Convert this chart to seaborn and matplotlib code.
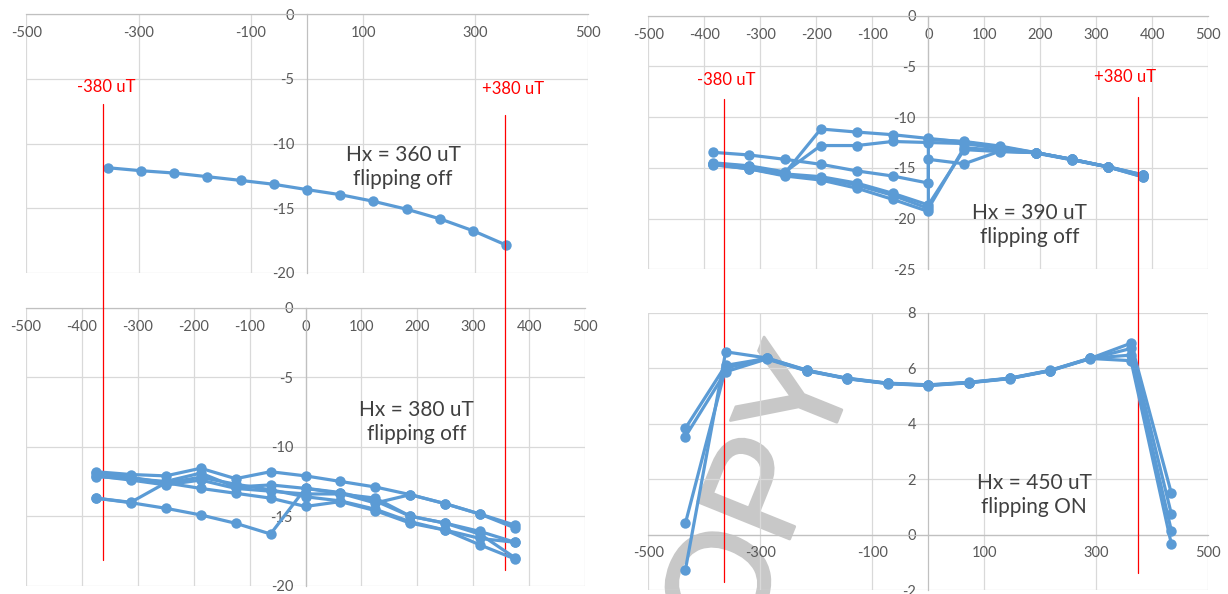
import numpy as np
import pandas as pd
import matplotlib
matplotlib.use("Agg")
import matplotlib.pyplot as plt
import matplotlib.transforms as mtransforms
import matplotlib.patheffects as pe
from matplotlib.lines import Line2D
import seaborn as sns

# ---------------- data ----------------
# Hx = 360 uT : single sweep
H360_X = [-355, -296, -237, -178, -118, -59, 0, 59, 118, 178, 237, 296, 355]
H360_Y = [-11.87, -12.10, -12.28, -12.56, -12.85, -13.15, -13.56, -13.95, -14.46, -15.08, -15.82, -16.74, -17.85]

# Hx = 380 uT : repeated sweeps
H380_X = [-375, -312.5, -250, -187.5, -125, -62.5, 0, 62.5, 125, 187.5, 250, 312.5, 375]
H380_X_DOWN = H380_X[::-1]
H380_S1 = [-11.80, -12.00, -12.10, -11.55, -12.30, -11.80, -12.10, -12.50, -12.90, -13.45, -14.10, -14.85, -15.65]
H380_S2 = [-12.15, -12.30, -12.50, -11.90, -12.90, -12.75, -13.00, -13.35, -14.05, -13.45, -14.10, -14.85, -15.85]
H380_S3 = [-12.10, -12.40, -12.75, -12.40, -13.00, -13.20, -13.40, -13.40, -13.70, -15.00, -15.50, -16.10, -16.88]
H380_S4 = [-11.90, -12.20, -12.60, -13.00, -13.35, -13.70, -14.30, -13.95, -14.60, -15.50, -16.00, -17.07, -18.08]
H380_S5 = [-16.88, -16.60, -16.00, -15.40, -14.50, -13.90, -13.60, -13.10, -12.70, -12.20, -12.60, -14.00, -13.70]
H380_S6 = [-13.70, -14.03, -14.43, -14.91, -15.51, -16.28, -12.99, -13.30, -13.90, -15.00, -15.50, -16.30, -18.00]

# Hx = 390 uT : repeated sweeps
H390_X = [-384, -320, -256, -192, -128, -64, 0, 64, 128, 192, 256, 320, 384]
H390_X_DOWN = H390_X[::-1]
H390_X_STEP = [-384, -320, -256, -192, -128, -64, 0, 0, 64, 128, 192, 256, 320, 384]
H390_T1 = [-14.70, -15.10, -15.80, -16.20, -17.00, -18.10, -19.30, -12.20, -12.40, -12.85, -13.50, -14.15, -14.90, -15.90]
H390_T2 = [-15.70, -14.88, -14.16, -13.50, -12.95, -12.45, -12.10, -11.73, -11.47, -11.17, -15.50, -14.85, -14.60]
H390_T3 = [-14.60, -15.00, -15.60, -15.87, -16.50, -17.50, -18.66, -13.20, -13.40, -13.50, -14.20, -14.90, -15.80]
H390_T4 = [-13.47, -13.73, -14.16, -14.65, -15.30, -15.80, -16.50, -14.16, -14.60, -13.35, -13.50, -14.16, -14.88, -15.70]
H390_T5 = [-15.75, -14.90, -14.20, -13.55, -13.10, -12.60, -12.50, -12.40, -12.80, -12.80, -15.40, -14.80, -14.50]
H390_T6 = [-14.65, -15.10, -15.70, -16.00, -16.70, -17.70, -19.00, -13.00, -13.30, -13.50, -14.16, -14.88, -15.90]

# Hx = 450 uT : repeated sweeps, magnetisation flips
H450_X = [-434, -362, -289, -217, -145, -72, 0, 72, 145, 217, 289, 362, 434]
H450_U1 = [3.83, 6.10, 6.35, 5.91, 5.63, 5.45, 5.39, 5.48, 5.63, 5.91, 6.35, 6.90, 1.49]
H450_U2 = [3.53, 5.87, 6.33, 5.90, 5.62, 5.44, 5.37, 5.47, 5.62, 5.90, 6.34, 6.71, 0.74]
H450_U3 = [0.40, 6.00, 6.36, 5.92, 5.64, 5.46, 5.40, 5.49, 5.64, 5.92, 6.36, 6.47, 0.14]
H450_U4 = [-1.28, 6.59, 6.37, 5.93, 5.62, 5.45, 5.38, 5.48, 5.63, 5.91, 6.35, 6.27, -0.34]

PANEL_TEXT = ["Hx = 360 uT\nflipping off", "Hx = 380 uT\nflipping off",
              "Hx = 390 uT\nflipping off", "Hx = 450 uT\nflipping ON"]
MARK_LABELS = ["-380 uT", "+380 uT"]


def frame(pairs):
    rows = []
    for run, (xs, ys) in enumerate(pairs):
        for i, (x, y) in enumerate(zip(xs, ys)):
            rows.append({"x": x, "y": y, "run": run, "i": i})
    return pd.DataFrame(rows)


panels = [
    frame([(H360_X, H360_Y)]),
    frame([(H380_X, H380_S1), (H380_X, H380_S2), (H380_X, H380_S3), (H380_X, H380_S4),
           (H380_X_DOWN, H380_S5), (H380_X, H380_S6)]),
    frame([(H390_X_STEP, H390_T1), (H390_X_DOWN, H390_T2), (H390_X, H390_T3),
           (H390_X_STEP, H390_T4), (H390_X_DOWN, H390_T5), (H390_X, H390_T6)]),
    frame([(H450_X, H450_U1), (H450_X, H450_U2), (H450_X, H450_U3), (H450_X, H450_U4)]),
]

# ---------------- style ----------------
sns.set_style("white")
plt.rcParams['font.family'] = ['Lato', 'DejaVu Sans']

BLUE = "#5B9BD5"
GRID = "#d9d9d9"
AXIS = "#c0c0c0"
TICK = "#595959"
NOTE = "#404040"
RED = "#ff0000"
MARK_GREY = "#c8c8c8"

W, H = 1228, 594
fig = plt.figure(figsize=(W / 100, H / 100), dpi=100)


def rect(x0, y0, x1, y1):
    return [x0 / W, 1 - y1 / H, (x1 - x0) / W, (y1 - y0) / H]


layout = [
    dict(rect=rect(26.2, 14.0, 587.7, 273.0), ylim=(-20, 0),
         xticks=np.arange(-500, 501, 200), yticks=np.arange(-20, 1, 5), note=(171, -11.8)),
    dict(rect=rect(26.0, 307.7, 585.0, 585.7), ylim=(-20, 0),
         xticks=np.arange(-500, 501, 100), yticks=np.arange(-20, 1, 5), note=(199, -8.2)),
    dict(rect=rect(648.4, 15.7, 1208.3, 269.3), ylim=(-25, 0),
         xticks=np.arange(-500, 501, 100), yticks=np.arange(-25, 1, 5), note=(181, -20.6)),
    dict(rect=rect(648.4, 312.7, 1208.3, 590.0), ylim=(-2, 8),
         xticks=np.arange(-500, 501, 200), yticks=np.arange(-2, 9, 2), note=(189, 1.43)),
]

axes = []
for df, cfg, note in zip(panels, layout, PANEL_TEXT):
    ax = fig.add_axes(cfg["rect"])
    ax.set_facecolor("none")
    sns.lineplot(data=df, x="x", y="y", units="run", estimator=None, sort=False,
                 color=BLUE, linewidth=2.3, marker="o", markersize=7.5,
                 markeredgewidth=0, legend=False, ax=ax, zorder=3)
    ax.set_xlim(-500, 500)
    ax.set_ylim(*cfg["ylim"])
    ax.set_xticks(cfg["xticks"])
    ax.set_yticks(cfg["yticks"])
    ax.set_xticklabels([f"{int(v)}" for v in cfg["xticks"]])
    ax.set_yticklabels([f"{int(v)}" for v in cfg["yticks"]])
    ax.set_xlabel("")
    ax.set_ylabel("")
    ax.grid(True, color=GRID, linewidth=0.9)
    for gl in ax.get_xgridlines() + ax.get_ygridlines():
        gl.set_clip_on(False)
    ax.set_axisbelow(True)
    for side in ("top", "right"):
        ax.spines[side].set_visible(False)
    ax.spines["bottom"].set_position(("data", 0))
    ax.spines["left"].set_position(("data", 0))
    for side in ("bottom", "left"):
        ax.spines[side].set_color(AXIS)
        ax.spines[side].set_linewidth(0.9)
        ax.spines[side].set_zorder(1)
    ax.tick_params(axis="x", length=0, pad=8.5, labelsize=10.5, labelcolor=TICK)
    ax.tick_params(axis="y", length=0, pad=9, labelsize=10.5, labelcolor=TICK)
    ax.text(cfg["note"][0], cfg["note"][1], note, ha="center", va="center",
            fontsize=15, color=NOTE, linespacing=1.25, zorder=4)
    axes.append(ax)

# ---------------- +/-380 uT markers spanning each column ----------------
markers = [
    (axes[1], axes[0], -363, 104, 560), (axes[1], axes[0], 353, 115, 570),
    (axes[3], axes[2], -365, 99, 582), (axes[3], axes[2], 374, 97, 573),
]
for host, ref, xv, ytop, ybot in markers:
    tr = mtransforms.blended_transform_factory(ref.transData, fig.transFigure)
    host.add_line(Line2D([xv, xv], [1 - ytop / H, 1 - ybot / H], transform=tr,
                         color=RED, linewidth=0.9, zorder=1.5, clip_on=False))

for (px, py), label in zip([(106, 87), (513, 89), (726, 80), (1125, 77)], MARK_LABELS * 2):
    fig.text(px / W, 1 - py / H, label, ha="center", va="center", fontsize=12, color=RED)

# watermark, kept beneath the axis labels and the curves
axes[3].text(746 / W, 1 - 547 / H, "COPY", transform=fig.transFigure,
             rotation=68, rotation_mode="anchor", ha="center", va="center",
             fontsize=104, family=["Liberation Sans", "DejaVu Sans"],
             color=MARK_GREY, clip_on=False, zorder=0.4,
             path_effects=[pe.withStroke(linewidth=2.0, foreground=MARK_GREY)])

fig.savefig("out.png", dpi=100, facecolor="white")
